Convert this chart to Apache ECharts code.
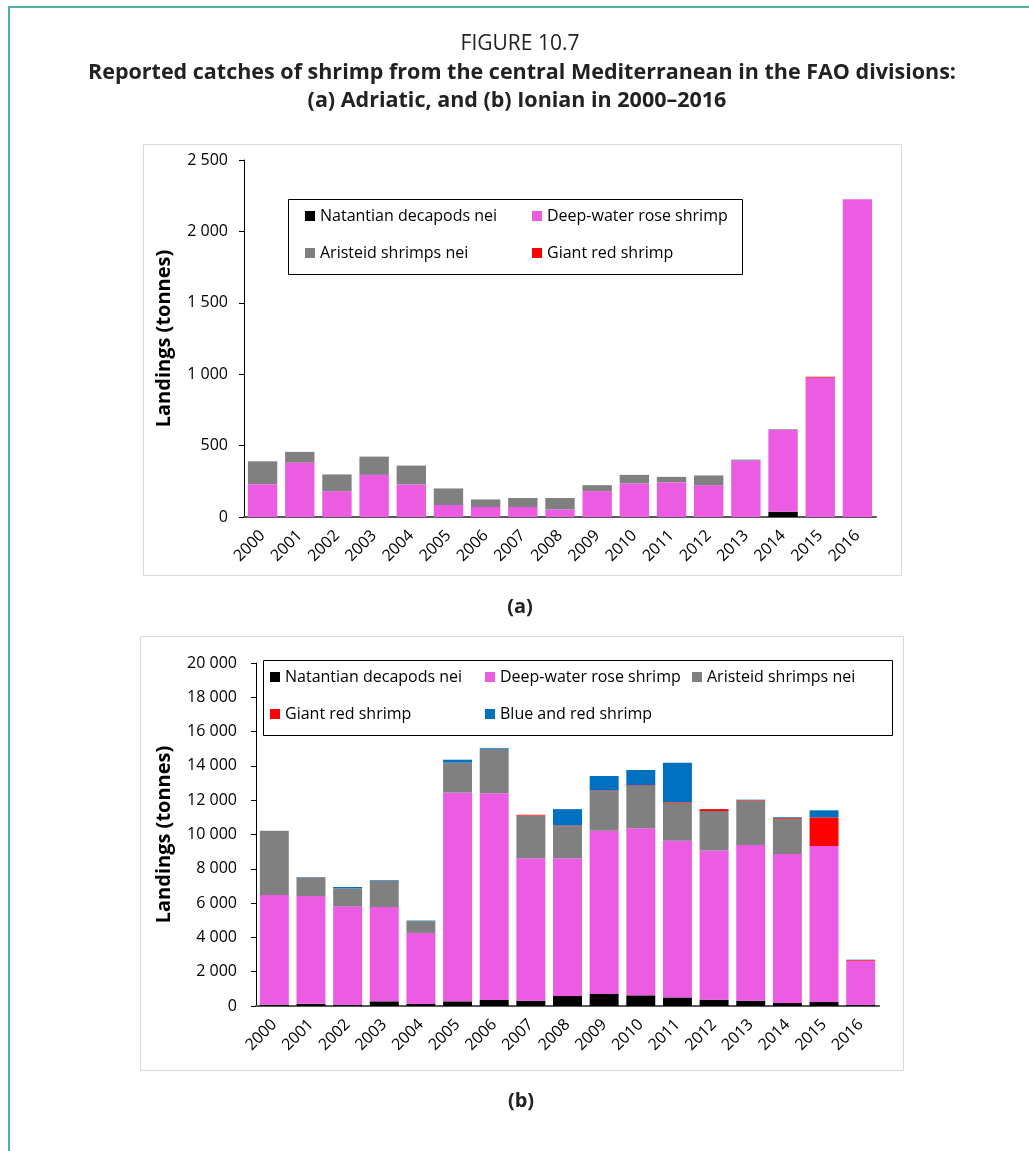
<!DOCTYPE html>
<html>
<head>
<meta charset="utf-8">
<script src="https://cdn.jsdelivr.net/npm/echarts@6/dist/echarts.min.js"></script>
<style>
html,body{margin:0;padding:0;background:#fff;}
#main{width:1029px;height:1151px;}
</style>
</head>
<body>
<div id="main"></div>
<script>
// ---------- DATA ----------
var years = ['2000','2001','2002','2003','2004','2005','2006','2007','2008','2009','2010','2011','2012','2013','2014','2015','2016'];

// (a) Adriatic
var adrNatantian = [0,0,0,0,0,0,0,0,0,0,0,0,0,0,37,0,0];
var adrRose      = [230,381,181,295,228,84,70,70,53,181,235,244,223,395,572,976,2225];
var adrAristeid  = [160,75,117,128,132,116,53,63,80,42,60,37,68,7,5,0,0];
var adrGiantRed  = [0,0,0,0,0,0,0,0,0,0,0,0,0,0,0,6,0];

// (b) Ionian
var ionNatantian = [80,130,60,270,120,270,350,310,580,700,620,500,370,310,170,230,60];
var ionRose      = [6390,6280,5750,5500,4140,12170,12050,8300,8030,9520,9740,9140,8690,9080,8690,9100,2580];
var ionAristeid  = [3750,1090,1050,1520,690,1750,2580,2490,1870,2300,2470,2220,2310,2590,2060,0,0];
var ionGiantRed  = [0,0,0,0,0,0,0,50,40,40,40,40,110,30,50,1670,40];
var ionBlue      = [0,20,80,40,30,170,50,0,960,850,890,2290,0,20,40,410,20];

var seriesNames = ['Natantian decapods nei','Deep-water rose shrimp','Aristeid shrimps nei','Giant red shrimp','Blue and red shrimp'];
var seriesColors = ['#000000','#EC5CE2','#808080','#FF0000','#0070C0'];

// ---------- CHART ----------
var FONT = '"Open Sans", sans-serif';
var chart = echarts.init(document.getElementById('main'), null, {renderer:'canvas'});
function fmt(v){ return String(v).replace(/\B(?=(\d{3})+(?!\d))/g, ' '); }

function yAxisCfg(gridIndex, max, interval, gap, margin){
  return {
    type:'value', gridIndex:gridIndex, min:0, max:max, interval:interval,
    name:'Landings (tonnes)', nameLocation:'middle', nameGap:gap, nameRotate:90,
    nameTextStyle:{fontFamily:FONT, fontWeight:'bold', fontSize:20, color:'#000'},
    axisLine:{show:true, lineStyle:{color:'#000', width:1}},
    axisTick:{show:true, inside:false, length:5, lineStyle:{color:'#000'}},
    splitLine:{show:false},
    axisLabel:{fontFamily:FONT, fontSize:16, color:'#000', margin:margin, formatter:fmt}
  };
}
function xAxisCfg(gridIndex){
  return {
    type:'category', gridIndex:gridIndex, data:years,
    axisLine:{show:true, lineStyle:{color:'#595959', width:2}},
    axisTick:{show:false},
    axisLabel:{fontFamily:FONT, fontSize:16, color:'#000', rotate:45, margin:16, interval:0}
  };
}
function bar(nameIdx, data, axisIdx, stack){
  return {
    type:'bar', name:seriesNames[nameIdx], data:data, stack:stack,
    xAxisIndex:axisIdx, yAxisIndex:axisIdx,
    barCategoryGap:'21%',
    itemStyle:{color:seriesColors[nameIdx]},
    emphasis:{disabled:true}
  };
}
function legendItem(nameIdx, left, top){
  return {
    data:[seriesNames[nameIdx]], left:left, top:top, padding:0,
    icon:'rect', itemWidth:10, itemHeight:10, itemGap:5,
    textStyle:{fontFamily:FONT, fontSize:16, color:'#000', padding:[0,0,0,0]}
  };
}

var option = {
  backgroundColor:'#fff',
  animation:false,
  grid:[
    {left:244, right:1029-876, top:160, bottom:1151-517, containLabel:false},
    {left:256, right:1029-879, top:663, bottom:1151-1006, containLabel:false}
  ],
  xAxis:[xAxisCfg(0), xAxisCfg(1)],
  yAxis:[yAxisCfg(0,2500,500,70,16), yAxisCfg(1,20000,2000,82,19)],
  legend:[
    legendItem(0, 305, 208), legendItem(1, 532, 208),
    legendItem(2, 305, 245), legendItem(3, 532, 245),
    legendItem(0, 270, 669), legendItem(1, 485, 669), legendItem(2, 692, 669),
    legendItem(3, 270, 706), legendItem(4, 485, 706)
  ],
  series:[
    bar(0, adrNatantian, 0, 'a'),
    bar(1, adrRose, 0, 'a'),
    bar(2, adrAristeid, 0, 'a'),
    bar(3, adrGiantRed, 0, 'a'),
    bar(0, ionNatantian, 1, 'b'),
    bar(1, ionRose, 1, 'b'),
    bar(2, ionAristeid, 1, 'b'),
    bar(3, ionGiantRed, 1, 'b'),
    bar(4, ionBlue, 1, 'b')
  ],
  graphic:[
    // page frame
    {type:'line', shape:{x1:9, y1:7, x2:1029, y2:7}, style:{stroke:'#4DB3A6', lineWidth:2}, z:-1},
    {type:'line', shape:{x1:9, y1:6, x2:9, y2:1151}, style:{stroke:'#4DB3A6', lineWidth:2}, z:-1},
    // titles
    {type:'text', x:520, y:44, style:{text:'FIGURE 10.7', fontFamily:FONT, fontSize:21, fill:'#222', textAlign:'center', textVerticalAlign:'middle'}},
    {type:'text', x:522, y:73, style:{text:'Reported catches of shrimp from the central Mediterranean in the FAO divisions:', fontFamily:FONT, fontWeight:'bold', fontSize:21.5, fill:'#222', textAlign:'center', textVerticalAlign:'middle'}},
    {type:'text', x:517, y:101, style:{text:'(a) Adriatic, and (b) Ionian in 2000\u20132016', fontFamily:FONT, fontWeight:'bold', fontSize:21.5, fill:'#222', textAlign:'center', textVerticalAlign:'middle'}},
    // panel borders
    {type:'rect', shape:{x:143.5, y:144.5, width:758, height:431}, style:{fill:'none', stroke:'#D9D9D9', lineWidth:1}, z:-1},
    {type:'rect', shape:{x:140.5, y:636.5, width:763, height:434}, style:{fill:'none', stroke:'#D9D9D9', lineWidth:1}, z:-1},
    // legend boxes
    {type:'rect', shape:{x:288.5, y:199.5, width:454, height:75}, style:{fill:'#fff', stroke:'#000', lineWidth:1}, z:1},
    {type:'rect', shape:{x:263.5, y:660.5, width:629, height:75}, style:{fill:'#fff', stroke:'#000', lineWidth:1}, z:1},
    // panel captions
    {type:'text', x:520, y:607, style:{text:'(a)', fontFamily:FONT, fontWeight:'bold', fontSize:20, fill:'#222', textAlign:'center', textVerticalAlign:'middle'}},
    {type:'text', x:521, y:1101, style:{text:'(b)', fontFamily:FONT, fontWeight:'bold', fontSize:20, fill:'#222', textAlign:'center', textVerticalAlign:'middle'}}
  ]
};
chart.setOption(option);
</script>
</body>
</html>
